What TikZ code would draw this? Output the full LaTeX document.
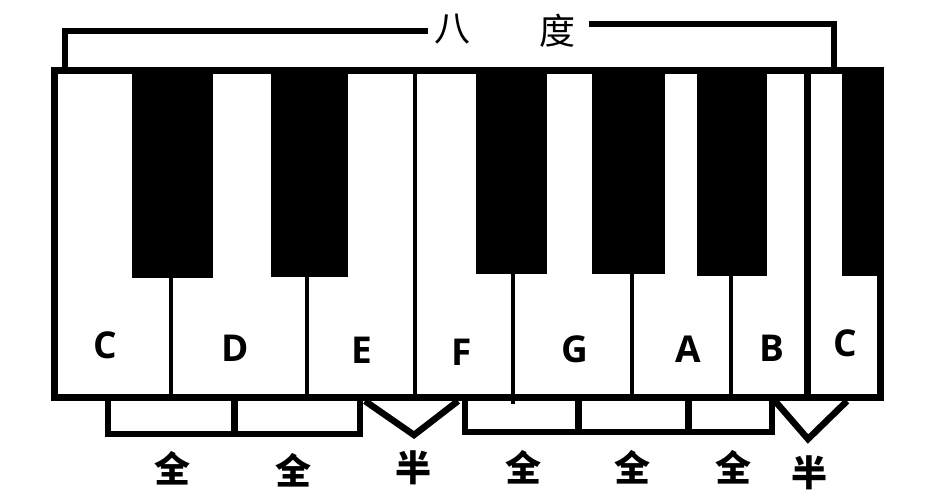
\documentclass[tikz,border=0pt]{standalone}
\usepackage{fontspec}
\setmainfont{Open Sans}
\newfontfamily\cjk{Noto Sans CJK SC}

\begin{document}
\begin{tikzpicture}[x=1pt, y=-1pt,
    frame/.style={line width=7pt},
    divider/.style={line width=4.5pt},
    blackkey/.style={fill=black},
    bracket/.style={line width=6.5pt},
    notename/.style={font=\fontsize{37}{40}\selectfont\bfseries, inner sep=0pt},
    interval/.style={font=\cjk\fontsize{36}{38}\selectfont\bfseries, inner sep=0pt},
    octave/.style={font=\cjk\fontsize{36}{38}\selectfont, inner sep=0pt}]
                    \useasboundingbox (0,0) rectangle (942,500);

                    \fill[blackkey] (132,70) rectangle (213,278);
                    \fill[blackkey] (271,70) rectangle (348,277);
                    \fill[blackkey] (476,70) rectangle (547,274);
                    \fill[blackkey] (592,70) rectangle (665,274);
                    \fill[blackkey] (697,70) rectangle (767,276);
                    \fill[blackkey] (842,70) rectangle (880,276);

                    \draw[divider] (171,278) -- (171,397);
                    \draw[divider] (307,277) -- (307,397);
                    \draw[divider] (415,70) -- (415,397);
                    \draw[divider] (513,274) -- (513,404);
                    \draw[divider] (632,274) -- (632,397);
                    \draw[divider] (731,276) -- (731,397);
                    \draw[frame] (807.5,70) -- (807.5,397);

                    \draw[frame] (54,70.5) rectangle (880,397.5);

                    \draw[bracket] (65,70) -- (65,31) -- (428,31);
                    \draw[bracket] (589,24) -- (834,24) -- (834,70);
                    \node[octave] (ba) at (452,29) {八};
                    \node[octave] (du) at (557,31) {度};

                    \draw[bracket] (108,401) -- (108,434) -- (360,434) -- (360,401);
                    \draw[bracket] (234.5,401) -- (234.5,434);
                    \draw[bracket] (365,401) -- (414,435) -- (458,401);
                    \draw[bracket] (465,401) -- (465,432) -- (772,432) -- (772,401);
                    \draw[bracket] (578.5,401) -- (578.5,432);
                    \draw[bracket] (688.5,401) -- (688.5,432);
                    \draw[bracket] (775,401) -- (808,439) -- (847,401);

                    \node[notename] (c1) at (105,345) {C};
                    \node[notename] (d) at (235,348) {D};
                    \node[notename] (e) at (362,350) {E};
                    \node[notename] (f) at (462,352) {F};
                    \node[notename] (g) at (575,349) {G};
                    \node[notename] (a) at (688,349) {A};
                    \node[notename] (b) at (772,348) {B};
                    \node[notename] (c2) at (845,343) {C};

                    \node[interval] (w1) at (172,468) {全};
                    \node[interval] (w2) at (293,470) {全};
                    \node[interval] (h1) at (413,468) {半};
                    \node[interval] (w3) at (523,467) {全};
                    \node[interval] (w4) at (632,467) {全};
                    \node[interval] (w5) at (733,467) {全};
                    \node[interval] (h2) at (809,473) {半};
                \end{tikzpicture}
\end{document}
